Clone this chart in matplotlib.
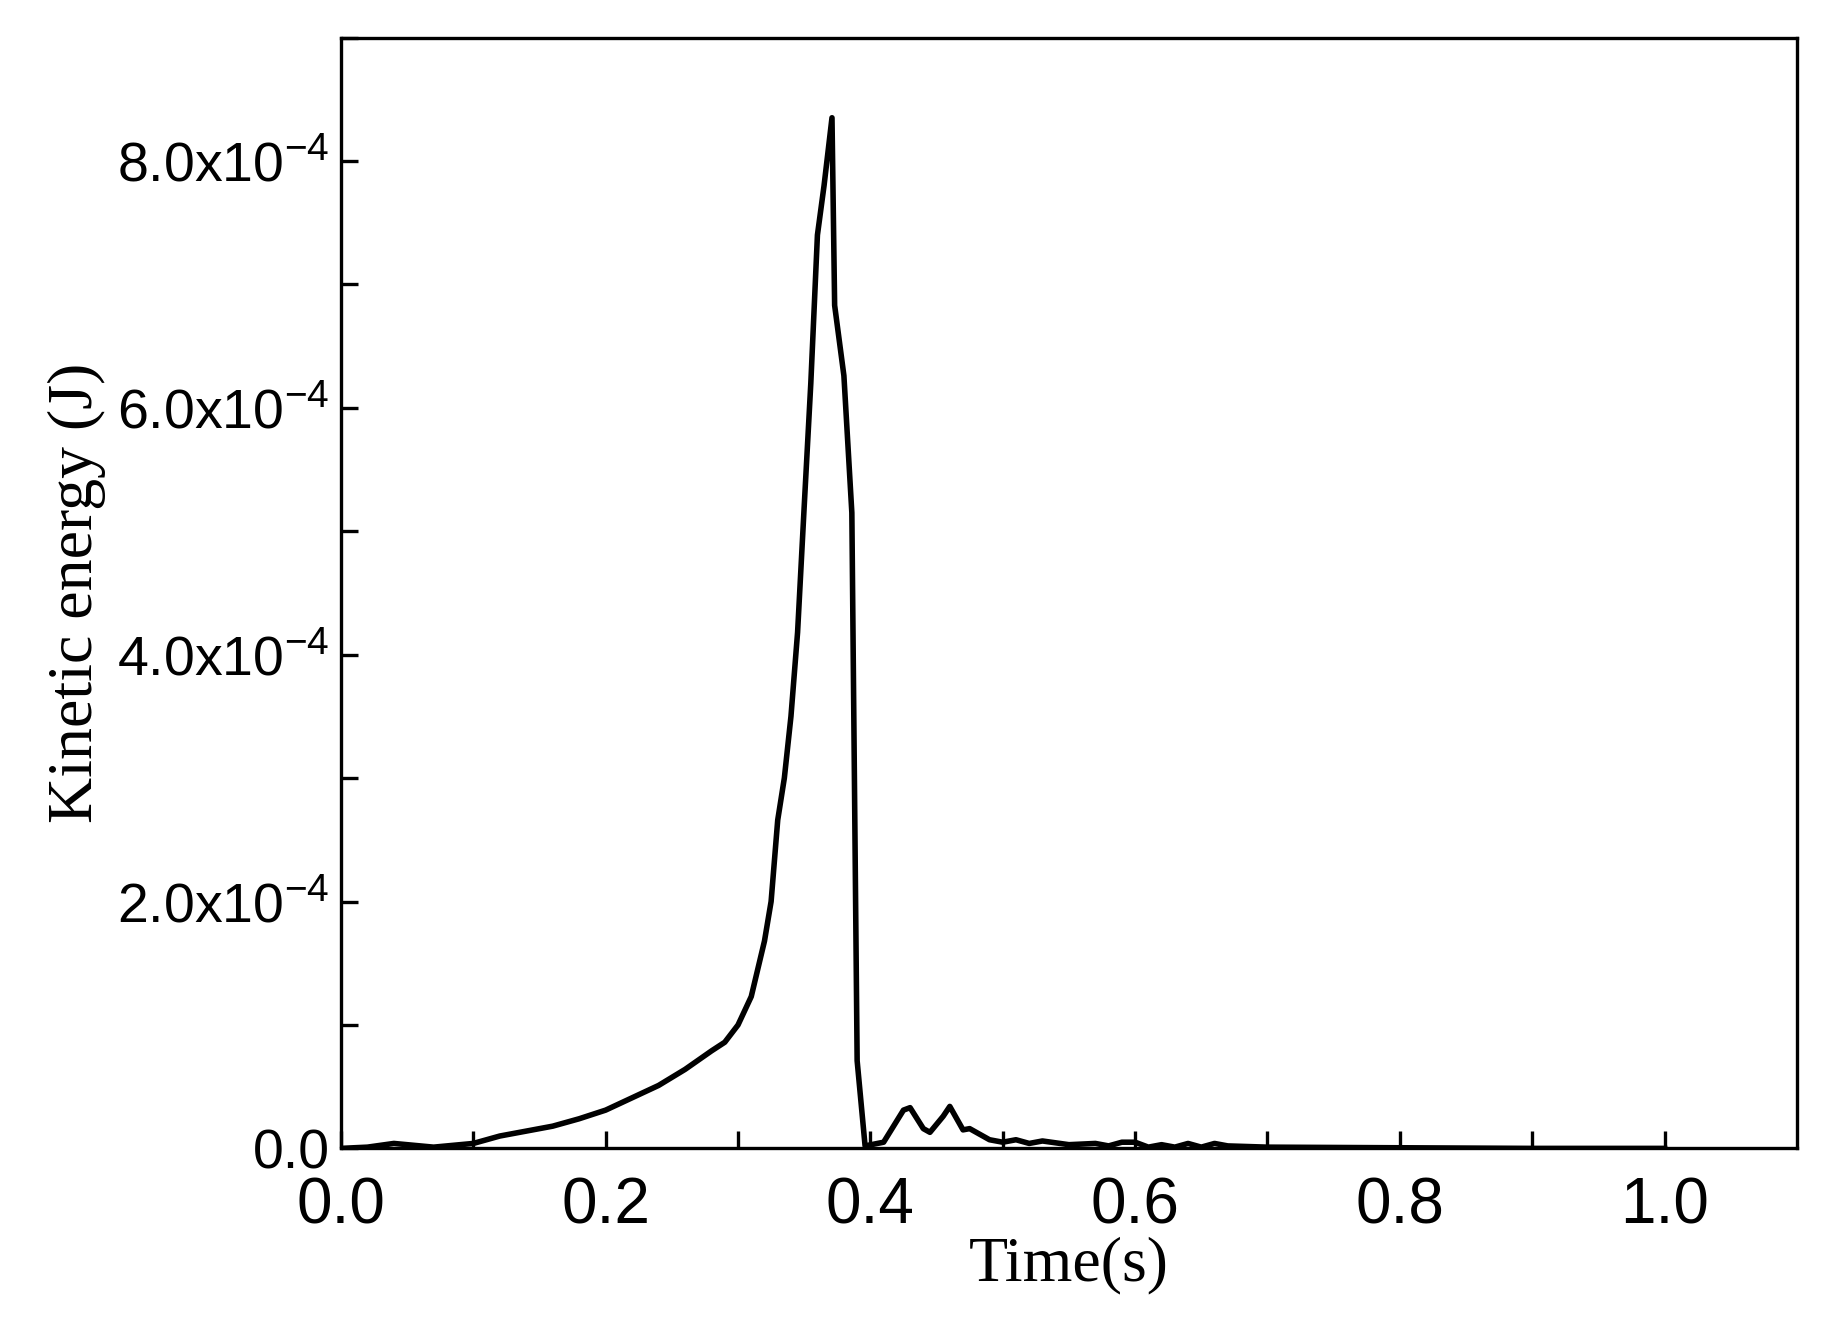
import matplotlib
matplotlib.use("Agg")
import matplotlib.pyplot as plt
from matplotlib.ticker import MultipleLocator, FixedLocator

t = [0, 0.02, 0.04, 0.07, 0.1, 0.12, 0.14, 0.16, 0.18, 0.2, 0.22, 0.24, 0.26, 0.28, 0.29, 0.30,
     0.31, 0.32, 0.325, 0.33, 0.335, 0.34, 0.345, 0.35, 0.355, 0.36, 0.365, 0.371, 0.373, 0.38,
     0.386, 0.39, 0.396, 0.41, 0.425, 0.43, 0.44, 0.445, 0.455, 0.46, 0.47, 0.475, 0.49, 0.5,
     0.51, 0.52, 0.53, 0.55, 0.57, 0.58, 0.59, 0.6, 0.61, 0.62, 0.63, 0.64, 0.65, 0.66, 0.67,
     0.7, 0.8, 0.9, 1.0]
ke = [0, 1e-6, 4e-6, 1e-6, 4e-6, 1e-5, 1.4e-5, 1.8e-5, 2.4e-5, 3.1e-5, 4.1e-5, 5.1e-5, 6.4e-5,
      7.9e-5, 8.6e-5, 1.0e-4, 1.23e-4, 1.68e-4, 2.0e-4, 2.66e-4, 3.0e-4, 3.5e-4, 4.18e-4, 5.2e-4,
      6.2e-4, 7.4e-4, 7.8e-4, 8.35e-4, 6.83e-4, 6.26e-4, 5.15e-4, 7.1e-5, 2e-6, 5e-6, 3.1e-5,
      3.3e-5, 1.6e-5, 1.3e-5, 2.6e-5, 3.4e-5, 1.5e-5, 1.6e-5, 7e-6, 5e-6, 7e-6, 4e-6, 6e-6, 3e-6,
      4e-6, 2e-6, 5e-6, 5e-6, 1e-6, 3e-6, 1e-6, 4e-6, 1e-6, 4e-6, 2e-6, 1e-6, 5e-7, 0, 0]

yticks = [0, 2e-4, 4e-4, 6e-4, 8e-4]
ylabels = ['0.0', r'2.0x10$^{\mathregular{-4}}$', r'4.0x10$^{\mathregular{-4}}$',
           r'6.0x10$^{\mathregular{-4}}$', r'8.0x10$^{\mathregular{-4}}$']

plt.rcParams['font.family'] = 'Liberation Sans'
plt.rcParams['axes.unicode_minus'] = False
fig = plt.figure(figsize=(9.14, 6.7), dpi=200)
ax = fig.add_axes([0.1865, 0.143, 0.7965, 0.829])
ax.plot(t, ke, color='black', lw=2)
ax.set_xlim(0, 1.1)
ax.set_ylim(0, 9e-4)
ax.xaxis.set_major_locator(FixedLocator([0, 0.2, 0.4, 0.6, 0.8, 1.0]))
ax.xaxis.set_minor_locator(FixedLocator([0.1, 0.3, 0.5, 0.7, 0.9]))
ax.set_yticks(yticks)
ax.set_yticklabels(ylabels)
ax.yaxis.set_minor_locator(MultipleLocator(1e-4))
ax.tick_params(which='both', direction='in', width=1.2, top=False, right=False, length=6)
ax.tick_params(axis='x', labelsize=23, pad=10)
ax.tick_params(axis='y', labelsize=20, pad=4)
for s in ax.spines.values():
    s.set_linewidth(1.2)
ax.set_xlabel('Time(s)', family='Liberation Serif', fontsize=23, labelpad=0)
ax.set_ylabel('Kinetic energy (J)', family='Liberation Serif', fontsize=23, labelpad=4)
fig.savefig('out.png', dpi=200)
